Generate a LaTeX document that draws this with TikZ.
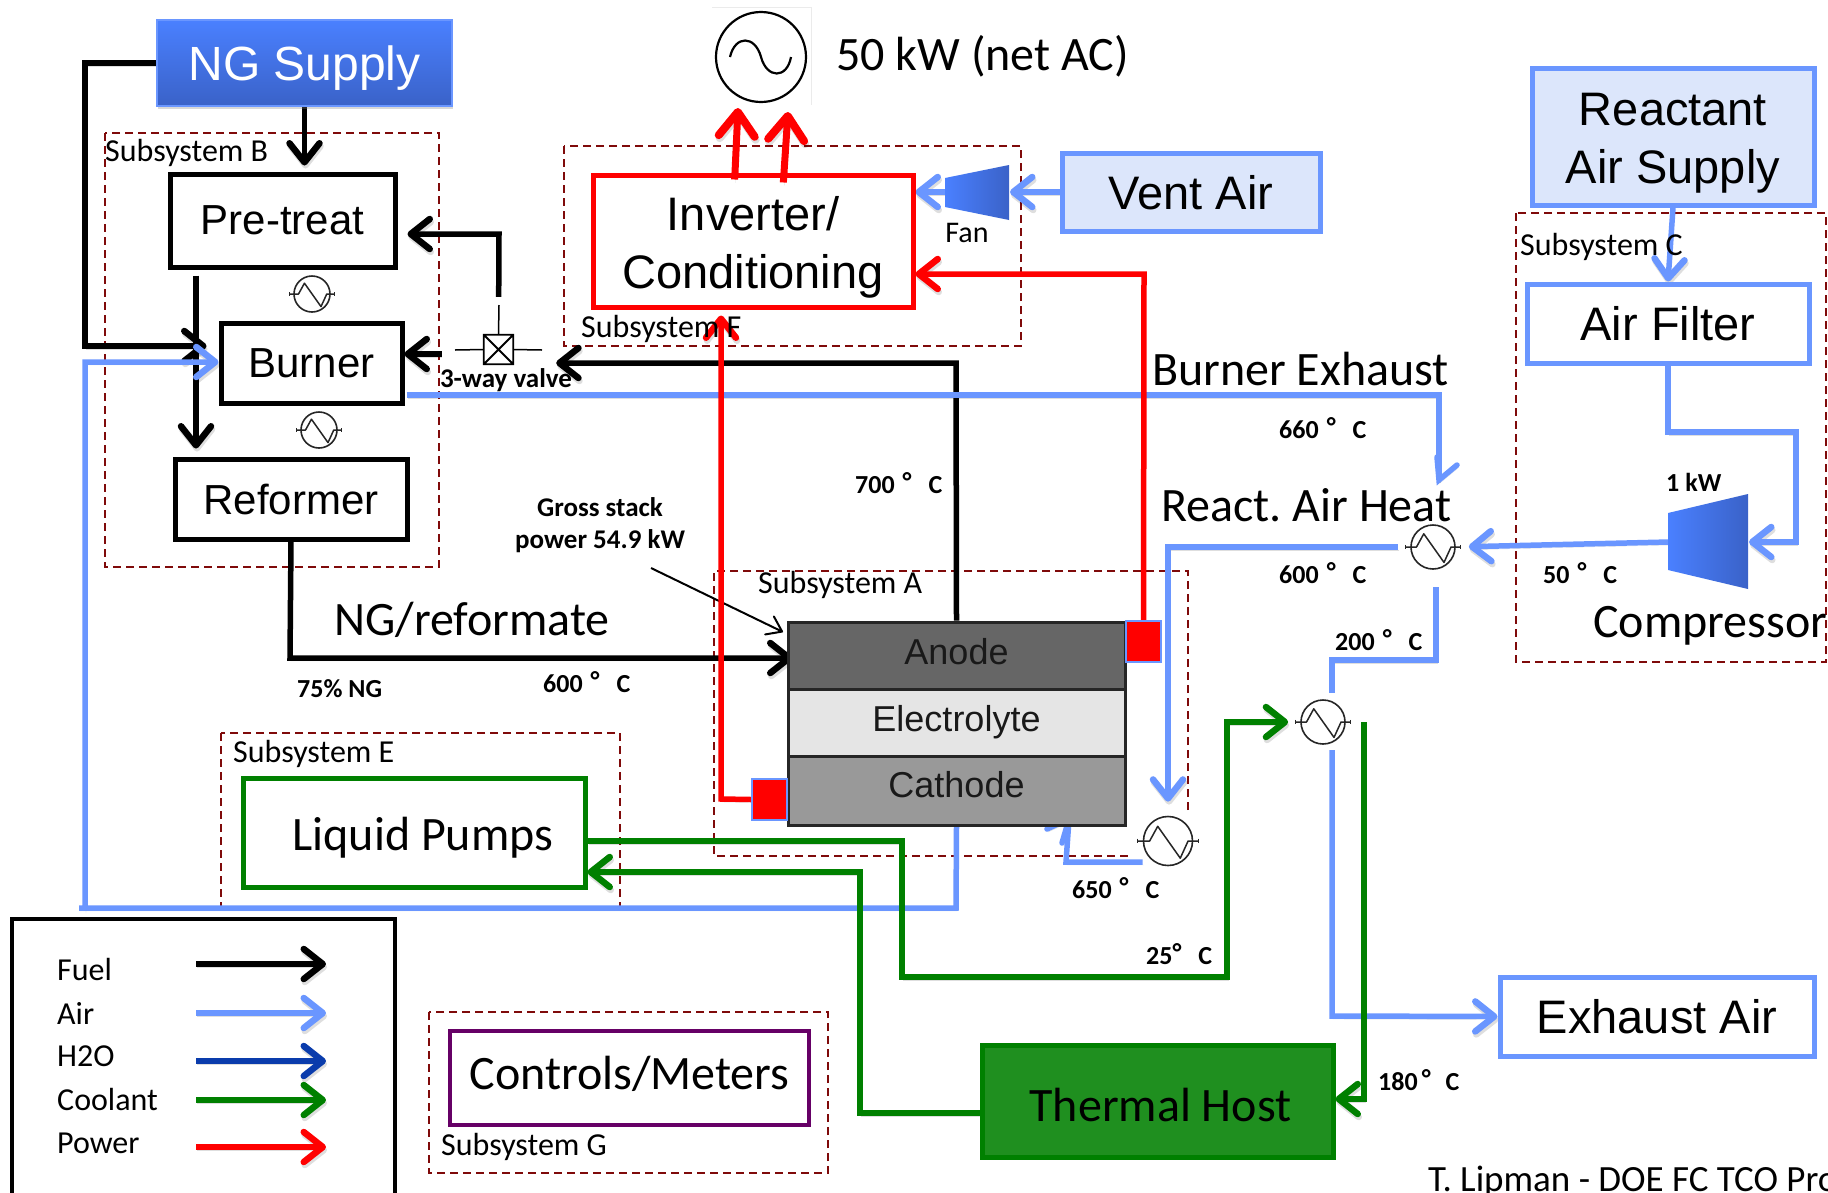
\documentclass[tikz,border=0pt]{standalone}
\usepackage{fontspec}
\setmainfont{Carlito}
\newfontfamily\arialf{Liberation Sans}
\usetikzlibrary{arrows.meta,shadows,calc}
\pgfdeclarelayer{lines}
\pgfsetlayers{lines,main}
\definecolor{airc}{HTML}{6A96FF}
\definecolor{waterc}{HTML}{0A3CAC}
\definecolor{coolc}{HTML}{008000}
\definecolor{powc}{HTML}{FF0000}
\definecolor{dashc}{HTML}{7F0A0A}
\definecolor{boxb}{HTML}{DCE6FB}
\definecolor{gradt}{HTML}{4A80FF}
\definecolor{gradb}{HTML}{3A62C8}
\definecolor{purp}{HTML}{660066}
\newcommand\fs[1]{\fontsize{#1}{#1}\selectfont}
\newcommand\nudge[2]{\raisebox{#1}[\height][\depth]{#2}}
\newcommand\rectnode[7][]{\node[#1,minimum width={(#5-#3)*1pt},minimum height={(#6-#4)*1pt},inner sep=0pt] (#2) at ({(#3+#5)/2},{(#4+#6)/2}) {#7};}
\newcommand\hxnode[4]{%
  \node[circle,draw=black!85,line width=1.6pt,fill=white,minimum size={2*#4*1pt},inner sep=0pt] (#1) at (#2,#3) {};
  \begin{scope}[shift={(#2,#3)},scale=#4]
    \draw[black!85,line width=1.5pt,line join=round] (-1.25,0)--(-0.75,0)--(-0.42,-0.6)--(0.5,0.7)--(0.82,0)--(1.25,0);
    \draw[black!85,line width=1.2pt] (-1.25,-0.1)--(-1.25,0.1) (1.25,-0.1)--(1.25,0.1);
  \end{scope}}
\newcommand\degmark{\raisebox{3pt}{°}}
\tikzset{
  barbtip/.style={-{Straight Barb[length=19pt,width=30pt,line width=6.5pt,round]}},
  ln/.style={line width=5.5pt,line join=miter,preaction={draw=black,draw opacity=.13,transform canvas={xshift=1pt,yshift=-3pt}}},
  fuel/.style={ln,draw=black,barbtip},
  air/.style={ln,draw=airc,barbtip},
  airp/.style={ln,draw=airc},
  water/.style={ln,draw=waterc,barbtip},
  cool/.style={ln,draw=coolc,barbtip},
  pow/.style={ln,draw=powc,barbtip},
  powbig/.style={ln,line width=7pt,draw=powc,-{Straight Barb[length=24pt,width=36pt,line width=8pt,round]}},
  subsys/.style={draw=dashc,line width=2.2pt,dash pattern=on 8pt off 5pt},
  sublab/.style={font=\fs{32},anchor=west,inner sep=0pt,text=black},
  bigtxt/.style={font=\fs{48},anchor=west,inner sep=0pt},
  temp/.style={font=\bfseries\fs{26},anchor=west,inner sep=0pt},
  blk/.style={draw=black,line width=5pt,font=\arialf\fs{42},align=center},
  bluebox/.style={draw=airc,line width=5pt,fill=boxb,font=\arialf\fontsize{47}{58}\selectfont,align=center},
  bluewhite/.style={draw=airc,line width=5pt,fill=white,font=\arialf\fs{47},align=center},
  layer/.style={draw=black!85,line width=3pt,font=\arialf\fs{36},text=black!90,align=center,text height=26pt,text depth=8pt},
  sq/.style={draw=airc,fill=powc,line width=1.5pt},
}
\begin{document}
\begin{tikzpicture}[x=1pt,y=-1pt]
\useasboundingbox (0,0) rectangle (1828,1192);
\begin{pgfonlayer}{lines}
\fill[white] (0,0) rectangle (1828,1192);
\end{pgfonlayer}
\clip (0,0) rectangle (1828,1192);

% ---------- nodes ----------
\rectnode[fill=none,draw=none]{valve}{484}{335}{513}{364}{}
\fill[white] (442,297) rectangle (553,380);
\fill[white] (1296,693) rectangle (1351,750);
\draw[black,line width=1.5pt] (499,305)--(valve.north) (455,350)--(valve.west) (valve.east)--(542,350);
\draw[black,line width=1.8pt] (valve.north west) rectangle (valve.south east) (valve.north west)--(valve.south east) (valve.north east)--(valve.south west);
\node[font=\bfseries\fs{27},inner sep=0pt] (valvelab) at (506,380) {3-way valve};

\rectnode[fill=none,top color=gradt,bottom color=gradb,draw=airc,line width=1.5pt,drop shadow={shadow xshift=1pt,shadow yshift=-3pt,opacity=.3},font=\arialf\fs{48},text=white]{ng}{157}{20}{452}{106}{\nudge{-5pt}{NG Supply}}
\rectnode[blk]{pre}{170}{174}{395}{267}{Pre-treat}
\rectnode[blk]{burner}{221}{323}{402}{403}{Burner}
\rectnode[blk]{ref}{175}{459}{407}{539}{Reformer}
\hxnode{hxa}{312}{294}{18}
\hxnode{hxb}{319}{430}{18}

\rectnode[draw=powc,line width=5pt,font=\arialf\fontsize{47}{58}\selectfont,align=center]{inv}{593}{175}{913}{307}{\nudge{-6pt}{Inverter/}\\\nudge{-6pt}{Conditioning}}
\rectnode[bluebox]{vent}{1062}{153}{1320}{231}{\nudge{-1pt}{Vent Air}}
\rectnode[bluebox]{rs}{1532}{68}{1814}{205}{\nudge{-7pt}{Reactant}\\\nudge{-7pt}{Air Supply}}
\rectnode[bluewhite]{af}{1527}{284}{1809}{363}{Air Filter}
\rectnode[bluewhite]{ex}{1500}{977}{1814}{1056}{Exhaust Air}

\rectnode[layer,fill=black!60]{anode}{788}{622}{1125}{689}{Anode}
\rectnode[layer,fill=black!10]{elec}{788}{689}{1125}{756}{Electrolyte}
\rectnode[layer,fill=black!40]{cathode}{788}{756}{1125}{825}{\nudge{2pt}{Cathode}}
\rectnode[sq]{sqa}{1126}{621}{1161}{662}{}
\rectnode[sq]{sqc}{752}{779}{787}{820}{}

\rectnode[draw=coolc,line width=5pt,font=\fs{48}]{pumps}{243}{778}{585}{887}{\hspace{18pt}\nudge{-5pt}{Liquid Pumps}}
\rectnode[draw=coolc,fill=coolc!88!white,line width=5pt,font=\fs{48},text=black]{thermal}{982}{1045}{1333}{1157}{\hspace{6pt}\nudge{-4pt}{Thermal Host}}
\rectnode[draw=purp,line width=4.5pt,font=\fs{48}]{ctrl}{450}{1031}{809}{1125}{\nudge{4pt}{Controls/Meters}}

\hxnode{hxc}{1433}{547}{22}
\hxnode{hxd}{1323}{722}{22}
\hxnode{hxe}{1168}{841}{24.5}

% AC source
\draw[black!8,line width=1pt] (712,7)--(811,7)--(811,105);
\node[circle,draw=black,line width=2.2pt,minimum size=90pt,inner sep=0pt] (ac) at (761,57) {};
\draw[black,line width=2.2pt] (730,57) .. controls (735,35) and (755,35) .. (761,57) .. controls (767,79) and (787,79) .. (791,57);
\coordinate (acin1) at (738,108);
\coordinate (acin2) at (788,112);

% fan and compressor
\path[left color=gradt,right color=gradb] (945,178)--(1009,165)--(1009,220)--(945,207)--cycle;
\path[left color=gradt,right color=gradb] (1668,513)--(1748,494)--(1748,589)--(1668,570)--cycle;
\coordinate (fanin) at (1010,192);
\coordinate (fanout) at (945,192);
\coordinate (compin) at (1749,542);
\coordinate (compout) at (1669,542);

% ---------- labels ----------
\node[sublab] (labB) at (105,153) {Subsystem B};
\node[sublab] (labF) at (581,329) {Subsystem F};
\node[sublab] (labC) at (1520,247) {Subsystem C};
\node[sublab] (labA) at (758,585) {Subsystem A};
\node[sublab] (labE) at (233,754) {Subsystem E};
\node[sublab] (labG) at (441,1147) {Subsystem G};
\node[bigtxt] (power) at (836,56) {50 kW (net AC)};
\node[bigtxt] (beh) at (1152,369) {Burner Exhaust};
\node[bigtxt] (rah) at (1161,505) {React.\ Air Heat};
\node[bigtxt] (comp) at (1593,626) {Compressor};
\node[bigtxt] (ngr) at (334,620) {NG/reformate};
\node[font=\fs{30},inner sep=0pt] (fan) at (967,233) {Fan};
\node[font=\bfseries\fontsize{27}{32}\selectfont,align=center,inner sep=0pt] (gross) at (600,525) {Gross stack\\power 54.9 kW};
\node[temp] (tng) at (297,689) {75\% NG};
\node[temp] (t1kw) at (1666,482) {1 kW};
\node[temp] (t660) at (1279,428) {660\hspace{8pt}\degmark\hspace{17pt}C};
\node[temp] (t600) at (1279,573) {600\hspace{8pt}\degmark\hspace{17pt}C};
\node[temp] (t50) at (1543,573) {50\hspace{8pt}\degmark\hspace{17pt}C};
\node[temp] (t200) at (1335,640) {200\hspace{8pt}\degmark\hspace{17pt}C};
\node[temp] (t600b) at (543,682) {600\hspace{8pt}\degmark\hspace{17pt}C};
\node[temp] (t700) at (855,483) {700\hspace{8pt}\degmark\hspace{17pt}C};
\node[temp] (t650) at (1072,888) {650\hspace{8pt}\degmark\hspace{17pt}C};
\node[temp] (t25) at (1146,954) {25\degmark\hspace{17pt}C};
\node[temp] (t180) at (1378,1080) {180\hspace{4pt}\degmark\hspace{15pt}C};
\node[font=\fs{37},anchor=base west,inner sep=0pt] (credit) at (1428,1191) {T.\ Lipman - DOE FC TCO Pro};

% legend
\draw[black,line width=4.5pt] (12,919) rectangle (395,1215);
\foreach \n/\t/\y in {a/Fuel/969,b/Air/1013,c/H2O/1056,d/Coolant/1099,e/Power/1143}
  \node[font=\fs{32},anchor=west,inner sep=0pt] (leg\n) at (57,\y) {\t};
\foreach \n/\s/\y in {a/fuel/964,b/air/1013,c/water/1061,d/cool/1100,e/pow/1147}{
  \coordinate (lfrom\n) at (196,\y);
  \coordinate (lto\n) at (326,\y);
  \draw[\s] (lfrom\n)--(lto\n);
}

% ---------- connectors and subsystem frames, behind the nodes ----------
\begin{pgfonlayer}{lines}
\draw[subsys] (105,133) rectangle (439,567);
\draw[subsys] (564,146) rectangle (1021,346);
\draw[subsys] (1516,213) rectangle (1826,662);
\draw[subsys] (1188,810)--(1188,571)--(714,571)--(714,856)--(1129,856);
\draw[subsys] (221,733) rectangle (620,908);
\draw[subsys] (429,1012) rectangle (828,1173);

% fuel
\draw[fuel,shorten >=12pt] (ng.west)--(85,63)--(85,346)--(burner.west |- 0,346);
\draw[fuel,shorten >=6pt] (ng.south)--(ng.south |- pre.north);
\draw[fuel,shorten <=6pt,shorten >=8pt] (pre.south -| 196,0)--(ref.north -| 196,0);
\draw[fuel,shorten >=10pt] (valve.north)--(499,234)--(pre.east |- 0,234);
\draw[fuel] (valve.west |- 0,354)--(burner.east |- 0,354);
\draw[fuel,shorten >=43pt] (anode.north)--(956,363)--(valve.east |- 0,363);
\draw[fuel,shorten >=-6pt] (ref.south)--(290,658)--(anode.west |- 0,658);
\coordinate (grossfrom) at (651,568);
\coordinate (grosstip) at (783,632);
\draw[black,line width=2pt,-{Straight Barb[length=14pt,width=20pt,round]}] (grossfrom)--(grosstip);

% air
\draw[air] (rs.south)--(af.north);
\draw[air] (af.south)--(af.south |- 0,432)--(1796,432)--(1796,542)--(compin);
\draw[air,shorten >=13pt] (compout)--(hxc.east);
\draw[air,shorten <=12pt,shorten >=14pt] (hxc.west)--(1168,547)--(hxe.north);
\coordinate (hxcsouth) at (1436,587);
\draw[airp] (hxcsouth)--(1436,660)--(1332,660)--(hxd.north -| 1332,0);
\draw[air] (hxd.south -| 1332,0)--(1332,1016)--(ex.west);
\draw[air] (vent.west)--(fanin);
\draw[air] (fanout)--(inv.east |- 0,192);
\coordinate (rahtip) at (1439,480);
\draw[airp,shorten <=2pt] (burner.east |- 0,395)--(1439,395)--(rahtip);
\draw[airp,line cap=round] (1437,457)--(rahtip)--(1457,465);
\coordinate (cathtip) at (1069,819);
\draw[airp] (hxe.west |- 0,862)--(1066,862)--(cathtip);
\draw[airp,line cap=round] (1047,829)--(cathtip)--(1062,843);
\draw[air] (cathode.south)--(956,908)--(79,908) (85,910)--(85,362)--(burner.west |- 0,362);

% power
\draw[pow] (sqa.center)--(1144,274)--(inv.east |- 0,274);
\draw[pow,shorten >=6pt] (sqc.west)--(721,799)--(inv.south -| 721,0);
\draw[powbig,shorten <=-7pt] (inv.north -| 735,0)--(acin1);
\draw[powbig,shorten <=-10pt] (inv.north -| 784,0)--(acin2);

% coolant
\draw[cool,shorten >=12pt] (pumps.east |- 0,841)--(902,841)--(902,977)--(1227,977)--(1227,722)--(hxd.west);
\draw[cool] (thermal.west |- 0,1113)--(860,1113)--(860,872)--(pumps.east |- 0,872);
\draw[cool] (hxd.east -| 1364,0)--(1364,1099)--(thermal.east |- 0,1099);
\end{pgfonlayer}
\end{tikzpicture}
\end{document}
